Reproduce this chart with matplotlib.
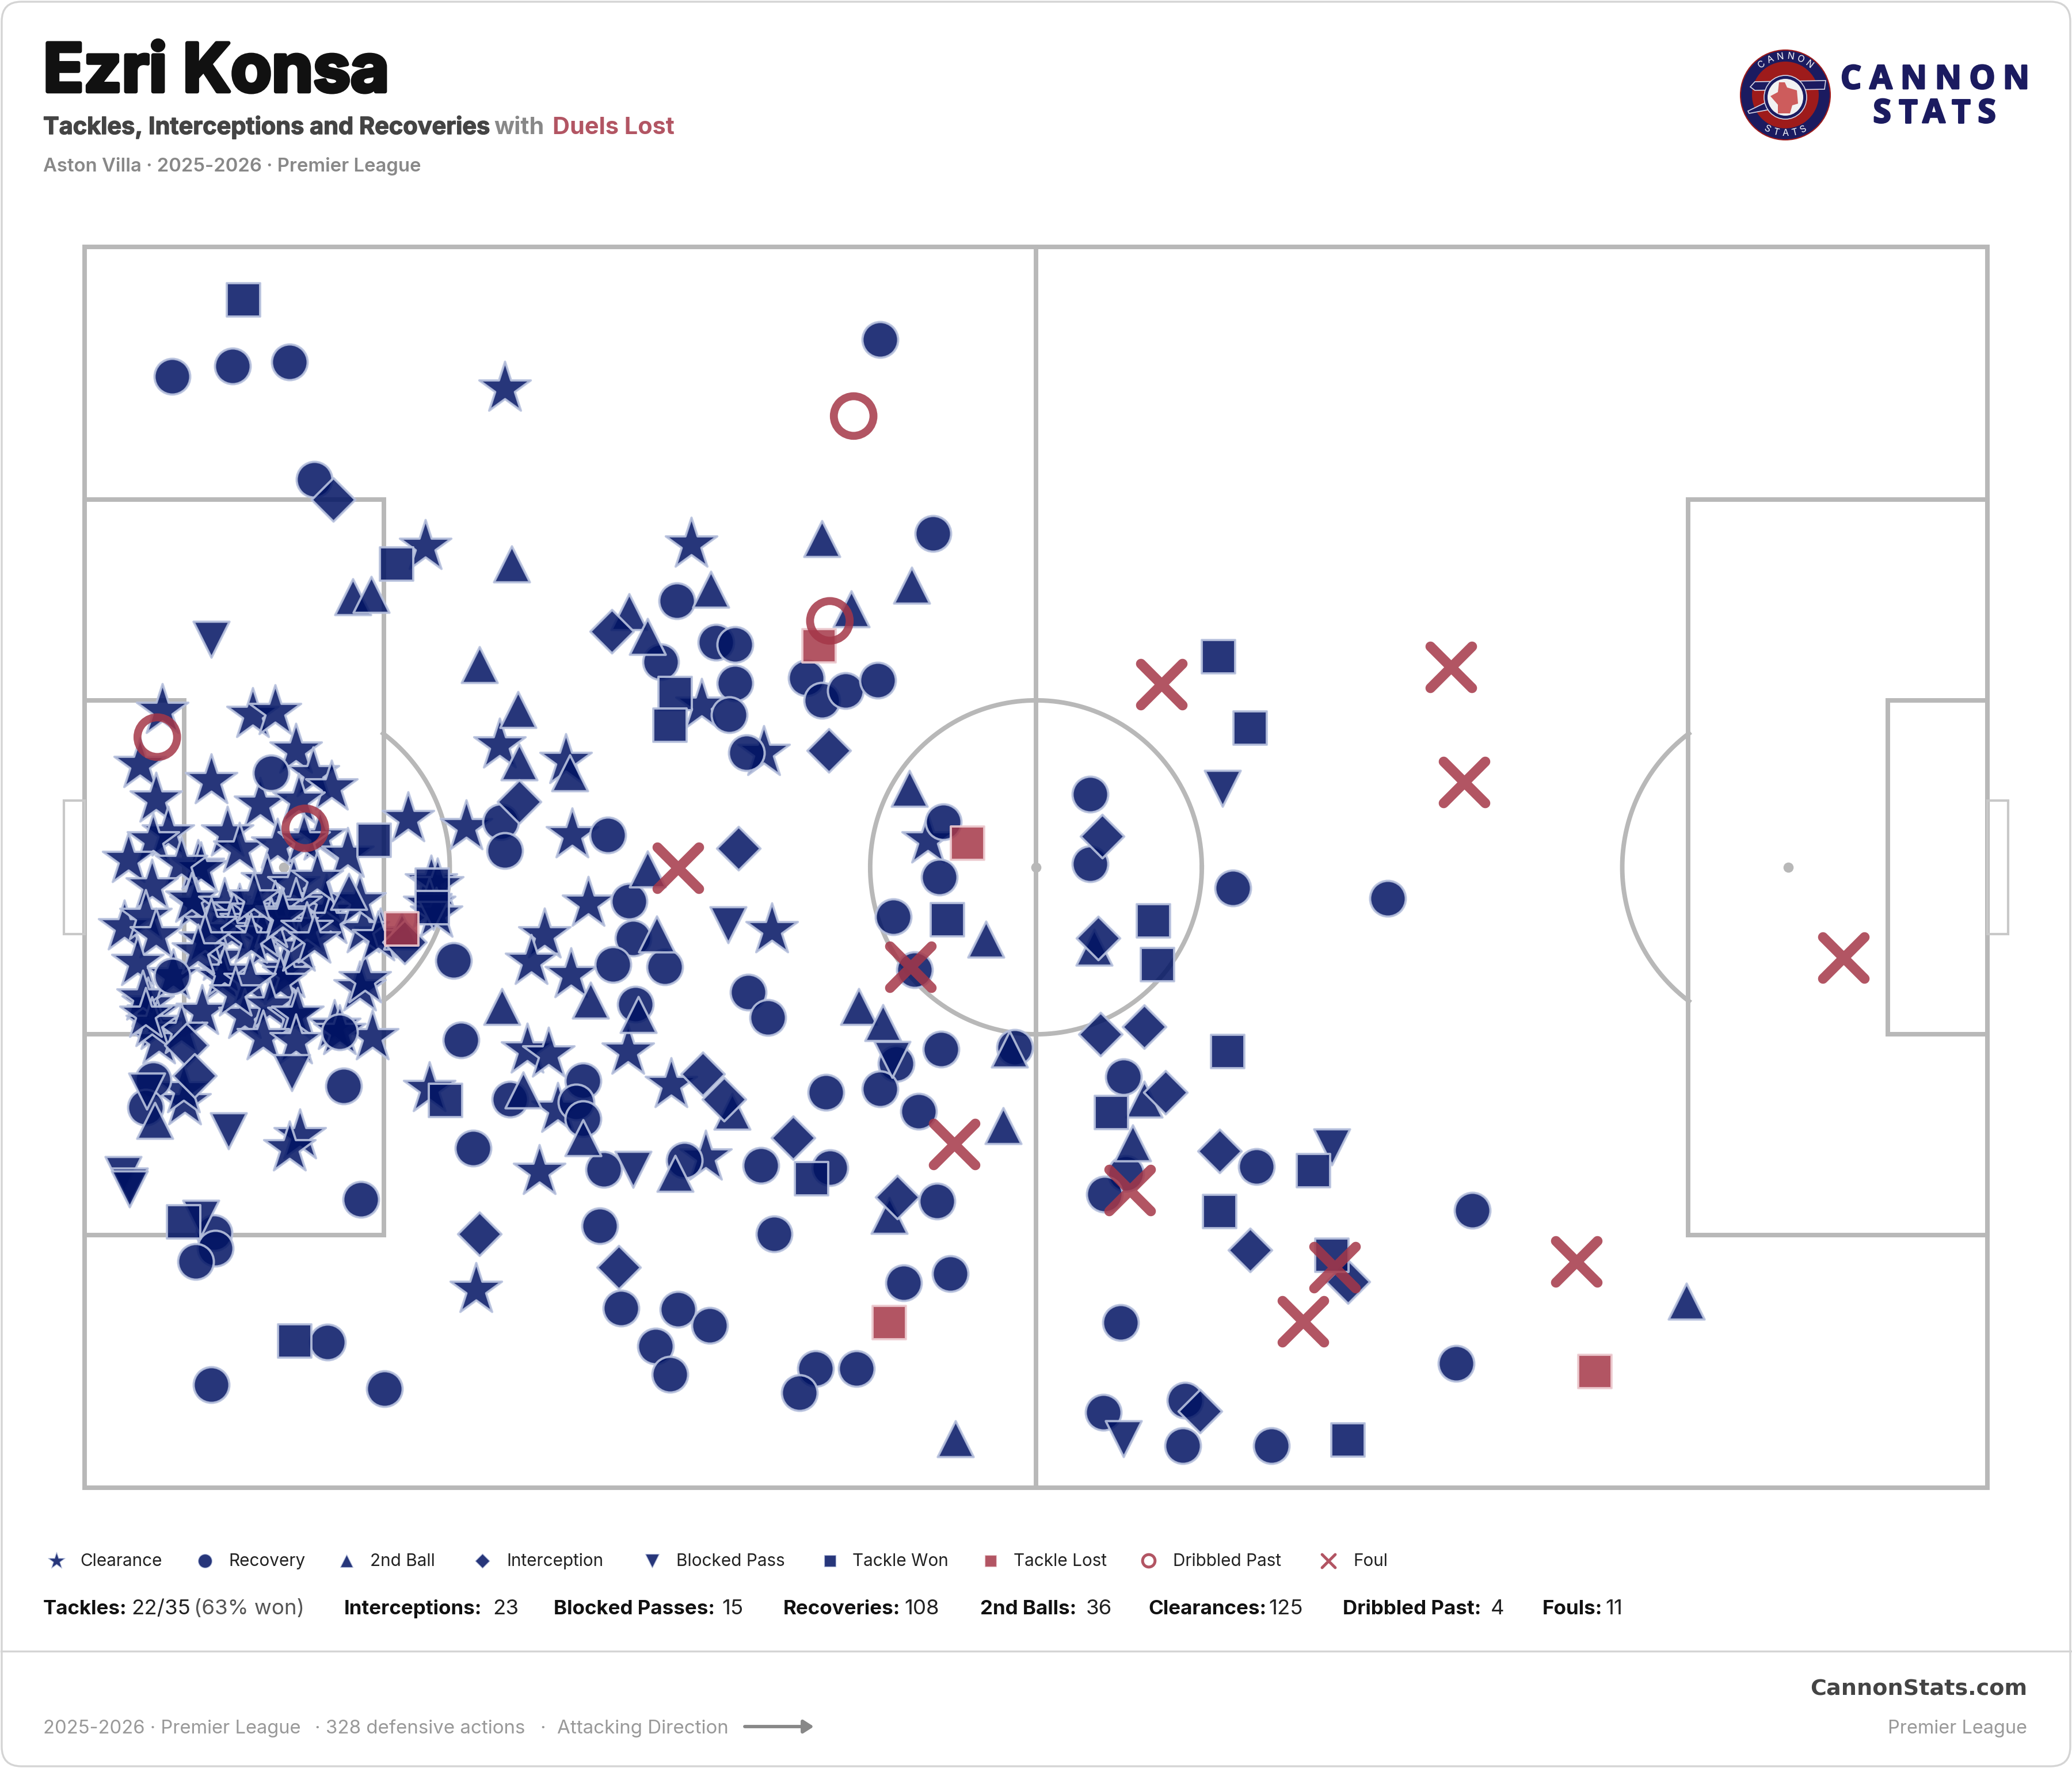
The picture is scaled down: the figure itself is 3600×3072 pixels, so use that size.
import numpy as np
import matplotlib
matplotlib.use("Agg")
import matplotlib.pyplot as plt
import matplotlib.patheffects as pe
from matplotlib.patches import Rectangle, FancyBboxPatch, Circle, Ellipse, Polygon

plt.rcParams['font.family'] = ['Inter', 'DejaVu Sans']

# Events on the pitch, x along 0-1440 (left to right), y across 0-939 (top to bottom)
clearance = [(318,107),(258,227),(459,225),(467,347),(514,383),(314,377),(364,389),(245,433),(289,439),(369,445),
             (638,449),(381,497),(348,521),(338,541),(368,551),(520,517),(208,561),(212,555),(218,598),(335,608),
             (351,611),(411,609),(444,634),(261,637),(358,653),(344,700),(470,689),(163,673),(155,682),(296,789),
             (76,647),(75,638),(262,481),(267,483),(261,498),(266,505),(224,521),(211,517),
             (59,351),(127,354),(144,352),(42,392),(160,381),(173,399),(187,409),(96,404),(54,418),(133,422),
             (162,419),(108,444),(117,456),(63,444),(52,449),(33,464),(86,469),(88,471),(73,467),(146,453),
             (178,447),(166,449),(199,460),(138,480),(158,483),(51,484),(30,515),(46,507),(54,521),(84,498),
             (81,494),(106,498),(117,502),(113,508),(122,511),(138,527),(184,503),(183,495),(186,510),(208,495),
             (160,498),(157,514),(144,500),(111,518),(102,538),(104,553),(106,549),(40,542),(151,547),(154,551),
             (148,556),(162,531),(125,556),(89,579),(121,582),(140,574),(158,582),(161,581),(52,580),(48,573),
             (44,568),(55,590),(56,601),(73,593),(67,552),(135,598),(160,601),(189,590),(193,594),(222,523),
             (131,503),(134,520),(141,513),(149,505),(126,525),(150,507),(128,493),(168,516),(174,525),(96,513),
             (91,525),(86,533),(176,478),(51,588),(114,565),(46,581)]
recovery = [(66,98),(112,90),(155,87),(174,176),(602,70),(642,217),(448,268),(436,314),(478,299),(492,301),
            (492,330),(488,354),(501,383),(546,326),(558,343),(576,336),(600,328),(141,398),(315,435),(318,457),
            (396,445),(650,435),(647,477),(612,507),(628,547),(412,495),(415,523),(400,543),(439,545),(279,540),
            (66,552),(417,573),(502,564),(517,583),(285,600),(193,594),(648,607),(704,606),(614,618),(52,630),
            (46,651),(196,635),(377,631),(322,645),(372,647),(377,660),(561,640),(602,637),(631,654),(786,628),
            (294,682),(393,698),(454,691),(512,695),(564,697),(788,701),(772,717),(887,696),(209,721),(645,722),
            (390,741),(522,747),(1050,729),(98,746),(99,758),(84,768),(620,784),(655,777),(184,829),(406,803),
            (449,804),(473,816),(432,832),(443,853),(96,861),(227,864),(553,849),(584,849),(541,867),(784,814),
            (1038,845),(771,882),(833,873),(831,907),(898,907),(761,414),(761,467),(869,485),(986,493)]
second_ball = [(558,221),(323,240),(626,256),(203,265),(217,263),(474,259),(412,276),(426,295),(299,316),(580,274),
               (328,350),(329,390),(367,398),(624,410),(426,471),(200,488),(433,520),(682,524),(316,575),(383,570),
               (419,581),(586,575),(604,587),(700,607),(332,638),(490,654),(695,665),(53,661),(802,645),(793,678),
               (377,674),(447,701),(609,733),(764,530),(1212,798),(659,902),(240,518)]
interception = [(188,191),(399,291),(563,381),(329,420),(495,455),(770,446),(767,523),(769,596),(802,590),(468,626),
                (484,645),(536,674),(818,640),(859,684),(615,719),(882,759),(299,747),(404,772),(956,783),(844,881),
                (77,604),(83,627),(242,526)]
blocked_pass = [(96,297),(861,410),(487,513),(157,625),(109,669),(47,639),(29,702),(34,711),(34,713),(88,735),
                (611,615),(415,698),(944,681),(786,902),(264,503)]
tackle_won = [(120,40),(236,240),(447,338),(443,362),(858,310),(882,364),(219,449),(263,483),(263,500),(653,509),
              (809,510),(812,543),(865,609),(273,646),(777,655),(550,705),(930,699),(859,730),(75,738),(944,763),
              (159,828),(956,903)]
tackle_lost = [(556,302),(668,451),(240,516),(609,814),(1143,851)]
dribbled_past = [(582,128),(564,283),(55,371),(167,440)]
foul = [(815,331),(1034,318),(1044,405),(449,470),(625,545),(658,679),(791,714),(946,772),(1129,768),(922,813),(1331,538)]

legend_labels = ['Clearance', 'Recovery', '2nd Ball', 'Interception', 'Blocked Pass',
                 'Tackle Won', 'Tackle Lost', 'Dribbled Past', 'Foul']
stat_labels = ['Tackles:', 'Interceptions:', 'Blocked Passes:', 'Recoveries:', '2nd Balls:',
               'Clearances:', 'Dribbled Past:', 'Fouls:']
stat_values = ['22/35', '23', '15', '108', '36', '125', '4', '11']

NAVY = (1/255, 19/255, 99/255, 0.85)
NAVY_EDGE = (0.72, 0.76, 0.87, 0.9)
RED = (165/255, 55/255, 72/255, 0.85)
RED_EDGE = (0.93, 0.80, 0.82, 0.9)
LINE = '#b8b8b8'

fig = plt.figure(figsize=(12, 10.24), dpi=300, facecolor='white')

# full figure axes in pixels for the card, the header and the footer
bg = fig.add_axes([0, 0, 1, 1])
bg.set_xlim(0, 3600)
bg.set_ylim(3072, 0)
bg.axis('off')
bg.add_patch(FancyBboxPatch((3, 3), 3594, 3066, boxstyle='round,pad=0,rounding_size=34',
                            fc='white', ec='#d4d4d4', lw=0.8))
bg.plot([2, 3598], [2869, 2869], color='#d4d4d4', lw=0.8)

# pitch
ax = fig.add_axes([147/3600, (3072-2585)/3072, 3306/3600, 2156/3072])
ax.set_xlim(0, 1440)
ax.set_ylim(939, 0)
ax.axis('off')
sx = 1440/105
sy = 939/68
mid = 34*sy
lw = 1.9


def box(x0, y0, w, h, lw=lw, color=LINE):
    ax.add_patch(Rectangle((x0*sx, y0*sy), w*sx, h*sy, fill=False, ec=color, lw=lw, clip_on=False, joinstyle='miter'))


box(0, 0, 105, 68)
box(0, 13.84, 16.5, 40.32)
box(88.5, 13.84, 16.5, 40.32)
box(0, 24.84, 5.5, 18.32)
box(99.5, 24.84, 5.5, 18.32)
box(-1.15, 30.34, 1.15, 7.32, lw=1.0, color='#c8c8c8')
box(105, 30.34, 1.15, 7.32, lw=1.0, color='#c8c8c8')
ax.plot([52.5*sx, 52.5*sx], [0, 939], color=LINE, lw=lw)
t = np.linspace(0, 2*np.pi, 400)
ax.plot(52.5*sx + 9.15*sx*np.cos(t), mid + 9.15*sy*np.sin(t), color=LINE, lw=lw)
for spot, side in [(11, 1), (94, -1)]:
    a = np.linspace(-0.93, 0.93, 80)
    ax.plot((spot + side*9.15*np.cos(a))*sx, mid + 9.15*sy*np.sin(a), color=LINE, lw=lw)
ax.scatter(np.array([11, 52.5, 94])*sx, [mid]*3, s=18, color=LINE, lw=0)

# data, style on the pitch, size and line width in the legend row
styles = [
    (clearance, dict(marker='*', s=510, fc=NAVY, ec=NAVY_EDGE, lw=0.95), 54, 0.3),
    (recovery, dict(marker='o', s=222, fc=NAVY, ec=NAVY_EDGE, lw=0.95), 33, 0.3),
    (second_ball, dict(marker='^', s=225, fc=NAVY, ec=NAVY_EDGE, lw=0.95), 28, 0.3),
    (interception, dict(marker='D', s=165, fc=NAVY, ec=NAVY_EDGE, lw=0.95), 18, 0.3),
    (blocked_pass, dict(marker='v', s=225, fc=NAVY, ec=NAVY_EDGE, lw=0.95), 33, 0.3),
    (tackle_won, dict(marker='s', s=190, fc=NAVY, ec=NAVY_EDGE, lw=0.95), 23, 0.3),
    (tackle_lost, dict(marker='s', s=190, fc=RED, ec=RED_EDGE, lw=0.95), 23, 0.3),
    (dribbled_past, dict(marker='o', s=273, fc='none', ec=RED, lw=3.3), 27, 1.2),
    (foul, dict(marker='x', s=300, c=[RED], lw=4.2, capstyle='round'), 30, 1.2),
]
for i, (pts, st, _, _) in enumerate(styles):
    xy = np.array(pts)
    ax.scatter(xy[:, 0], xy[:, 1], zorder=3+i, clip_on=False, **st)

# header
title = bg.text(75, 159, 'Ezri Konsa', fontsize=27.8, fontweight='bold', color='#111111', va='baseline')
title.set_path_effects([pe.withStroke(linewidth=1.6, foreground='#111111')])
sub_fx = [pe.withStroke(linewidth=0.35, foreground='#444444')]
bg.text(75, 233, 'Tackles, Interceptions and Recoveries', fontsize=9.95, fontweight='bold', color='#444444',
        va='baseline', path_effects=sub_fx)
bg.text(858, 233, 'with', fontsize=9.95, fontweight='bold', color='#888888', va='baseline')
bg.text(960, 233, 'Duels Lost', fontsize=9.95, fontweight='bold', color='#b25563', va='baseline')
bg.text(75, 298, 'Aston Villa · 2025-2026 · Premier League', fontsize=7.9, fontweight='semibold', color='#888888', va='baseline')

# badge
cx, cy = 3102, 165
bg.add_patch(Circle((cx, cy), 78, fc='#1b1b60', ec='#9e1b1b', lw=0.5))
bg.add_patch(Circle((cx, cy), 58, fc='#9e1b1b', ec='none'))
bg.add_patch(Polygon([(3049, 142), (3172, 140), (3170, 155), (3049, 157), (3041, 151)], fc='#1b1b60', ec='#d8d8e8', lw=0.4))
bg.add_patch(Polygon([(3037, 193), (3070, 177), (3076, 190), (3039, 197)], fc='#1b1b60', ec='#d8d8e8', lw=0.4))
bg.add_patch(Ellipse((3102, 169), 74, 76, fc='#1b1b60', ec='#d8d8e8', lw=0.4))
bg.add_patch(Ellipse((3102, 169), 62, 64, fc='#f2f2f2', ec='none'))
bg.add_patch(Polygon([(3091, 143), (3101, 143), (3105, 152), (3122, 157), (3124, 180), (3114, 183), (3110, 197),
                      (3089, 197), (3089, 182), (3076, 167), (3089, 160)], fc='#cd5c5c', ec='none'))
for ch, deg in zip('CANNON', [-38, -23, -8, 8, 23, 38]):
    a = np.radians(deg)
    bg.text(cx + 67*np.sin(a), cy - 67*np.cos(a), ch, fontsize=3.9, color='white', rotation=-deg,
            ha='center', va='center', rotation_mode='anchor')
for ch, deg in zip('STATS', [-28, -14, 0, 14, 28]):
    a = np.radians(deg)
    bg.text(cx + 67*np.sin(a), cy + 67*np.cos(a), ch, fontsize=3.9, color='white', rotation=deg,
            ha='center', va='center', rotation_mode='anchor')
word_fx = [pe.withStroke(linewidth=0.7, foreground='#1b1b60')]
for ch, x in zip('CANNON', [3216, 3268, 3325, 3385, 3444, 3503]):
    bg.text(x, 154, ch, family=['Open Sans', 'DejaVu Sans'], fontsize=13.6, fontweight='bold', color='#1b1b60',
            ha='center', va='baseline', path_effects=word_fx)
for ch, x in zip('STATS', [3270, 3315, 3360, 3407, 3452]):
    bg.text(x, 213, ch, family=['Open Sans', 'DejaVu Sans'], fontsize=13.6, fontweight='bold', color='#1b1b60',
            ha='center', va='baseline', path_effects=word_fx)

# legend row
marker_x = [98, 356, 602, 838, 1133, 1442, 1721, 1996, 2308]
label_x = [139, 397, 643, 880, 1175, 1481, 1761, 2038, 2351]
for (pts, st, small, small_lw), mx, lx, name in zip(styles, marker_x, label_x, legend_labels):
    st2 = dict(st)
    st2['s'] = small
    st2['lw'] = small_lw
    bg.scatter([mx], [2712], **st2)
    bg.text(lx, 2721, name, fontsize=7.15, color='#222222', va='baseline')

# totals row
stat_x = [75, 598, 962, 1361, 1703, 1995, 2333, 2680]
value_x = [228, 856, 1254, 1571, 1887, 2204, 2590, 2789]
for name, val, x0, x1 in zip(stat_labels, stat_values, stat_x, value_x):
    bg.text(x0, 2805, name, fontsize=8.4, fontweight='bold', color='#111111', va='baseline')
    bg.text(x1, 2805, val, fontsize=8.8, color='#222222', va='baseline')
bg.text(337, 2805, '(63% won)', fontsize=8.8, color='#555555', va='baseline')

# footer
bg.text(75, 3012, '2025-2026 · Premier League', fontsize=7.85, color='#999999', va='baseline')
bg.text(547, 3012, '· 328 defensive actions', fontsize=7.95, color='#999999', va='baseline')
bg.text(938, 3012, '·', fontsize=7.95, color='#999999', va='baseline')
bg.text(968, 3012, 'Attacking Direction', fontsize=7.95, color='#999999', va='baseline')
bg.annotate('', xy=(1414, 3000), xytext=(1294, 3000),
            arrowprops=dict(arrowstyle='-|>,head_length=0.5,head_width=0.32', color='#888888', lw=1.4, mutation_scale=7,
                            shrinkA=0, shrinkB=0))
bg.text(3522, 2946, 'CannonStats.com', family=['DejaVu Sans'], fontsize=9.15, fontweight='bold', color='#444444', ha='right', va='baseline')
bg.text(3522, 3012, 'Premier League', fontsize=7.8, color='#999999', ha='right', va='baseline')

fig.savefig('out.png', dpi=300)
